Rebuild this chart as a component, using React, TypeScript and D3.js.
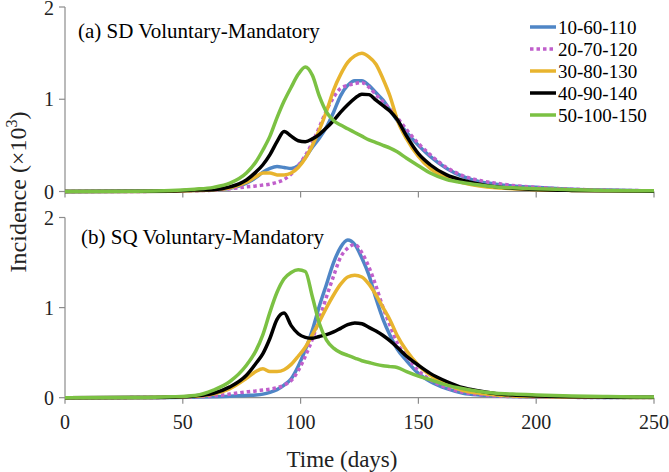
import React from "react";
import * as d3 from "d3";

// sample days shared by every series
const days = [0, 30, 45, 55, 63, 70, 77, 81, 84, 87, 90, 93, 96, 99, 102, 105, 108, 111, 114, 117, 120, 123, 126, 129, 132, 135, 138, 141, 145, 150, 155, 162, 169, 176, 183, 190, 200, 215, 230, 250];

const seriesNames = ["10-60-110", "20-70-120", "30-80-130", "40-90-140", "50-100-150"];
const seriesColors = ["#4f86c6", "#c05fcb", "#e8b42e", "#000000", "#7bc143"];

// (a) SD Voluntary-Mandatory, incidence x10^3
const sdBlue = [0, 0.001, 0.004, 0.01, 0.018, 0.035, 0.09, 0.15, 0.21, 0.25, 0.27, 0.26, 0.25, 0.28, 0.37, 0.48, 0.58, 0.7, 0.86, 1.04, 1.15, 1.2, 1.2, 1.15, 1.07, 0.99, 0.88, 0.77, 0.64, 0.5, 0.38, 0.25, 0.16, 0.105, 0.08, 0.06, 0.045, 0.025, 0.015, 0.008];
const sdPurple = [0, 0.001, 0.003, 0.008, 0.015, 0.03, 0.05, 0.06, 0.07, 0.08, 0.1, 0.13, 0.19, 0.28, 0.39, 0.53, 0.7, 0.88, 1.02, 1.12, 1.15, 1.17, 1.18, 1.13, 1.05, 0.97, 0.89, 0.8, 0.67, 0.52, 0.4, 0.26, 0.17, 0.12, 0.09, 0.065, 0.045, 0.025, 0.015, 0.008];
const sdYellow = [0, 0.001, 0.004, 0.01, 0.02, 0.04, 0.1, 0.16, 0.2, 0.2, 0.18, 0.18, 0.2, 0.26, 0.36, 0.5, 0.67, 0.87, 1.1, 1.27, 1.4, 1.47, 1.5, 1.46, 1.38, 1.22, 1.03, 0.78, 0.57, 0.38, 0.25, 0.15, 0.095, 0.06, 0.04, 0.03, 0.02, 0.012, 0.007, 0.004];
const sdBlack = [0, 0.002, 0.006, 0.015, 0.02, 0.05, 0.125, 0.21, 0.29, 0.4, 0.54, 0.65, 0.6, 0.55, 0.54, 0.57, 0.62, 0.69, 0.77, 0.86, 0.94, 1.01, 1.055, 1.05, 0.99, 0.93, 0.87, 0.78, 0.6, 0.41, 0.29, 0.18, 0.12, 0.08, 0.05, 0.035, 0.022, 0.012, 0.007, 0.004];
const sdGreen = [0, 0.003, 0.01, 0.025, 0.045, 0.09, 0.2, 0.32, 0.45, 0.6, 0.8, 0.98, 1.13, 1.27, 1.35, 1.26, 1.03, 0.86, 0.77, 0.72, 0.68, 0.64, 0.6, 0.56, 0.53, 0.5, 0.47, 0.43, 0.36, 0.28, 0.2, 0.13, 0.095, 0.07, 0.05, 0.04, 0.03, 0.02, 0.012, 0.008];

// (b) SQ Voluntary-Mandatory
const sqBlue = [0, 0.001, 0.003, 0.006, 0.01, 0.015, 0.025, 0.03, 0.04, 0.06, 0.09, 0.14, 0.21, 0.35, 0.53, 0.75, 1.02, 1.26, 1.5, 1.67, 1.75, 1.7, 1.55, 1.36, 1.1, 0.87, 0.69, 0.54, 0.41, 0.27, 0.18, 0.1, 0.05, 0.03, 0.02, 0.012, 0.007, 0.004, 0.002, 0.001];
const sqPurple = [0, 0.001, 0.004, 0.01, 0.02, 0.04, 0.065, 0.075, 0.085, 0.095, 0.11, 0.14, 0.19, 0.3, 0.46, 0.65, 0.88, 1.12, 1.35, 1.56, 1.66, 1.7, 1.61, 1.45, 1.24, 1.0, 0.8, 0.61, 0.46, 0.3, 0.2, 0.11, 0.06, 0.035, 0.02, 0.013, 0.008, 0.004, 0.002, 0.001];
const sqYellow = [0, 0.002, 0.005, 0.015, 0.04, 0.1, 0.215, 0.29, 0.32, 0.29, 0.29, 0.31, 0.37, 0.46, 0.56, 0.7, 0.845, 1.0, 1.14, 1.26, 1.34, 1.36, 1.34, 1.26, 1.14, 1.0, 0.86, 0.69, 0.52, 0.36, 0.25, 0.15, 0.08, 0.05, 0.03, 0.02, 0.012, 0.007, 0.004, 0.002];
const sqBlack = [0, 0.002, 0.006, 0.02, 0.05, 0.12, 0.25, 0.38, 0.49, 0.66, 0.87, 0.94, 0.8, 0.71, 0.67, 0.66, 0.68, 0.7, 0.73, 0.77, 0.81, 0.83, 0.82, 0.78, 0.74, 0.69, 0.63, 0.56, 0.46, 0.36, 0.27, 0.18, 0.11, 0.075, 0.045, 0.03, 0.02, 0.01, 0.006, 0.004];
const sqGreen = [0, 0.002, 0.01, 0.025, 0.085, 0.18, 0.36, 0.52, 0.7, 0.95, 1.17, 1.32, 1.39, 1.42, 1.4, 1.12, 0.82, 0.64, 0.55, 0.5, 0.47, 0.44, 0.41, 0.39, 0.37, 0.355, 0.345, 0.335, 0.29, 0.24, 0.2, 0.14, 0.1, 0.07, 0.05, 0.04, 0.03, 0.018, 0.012, 0.008];

const xTicks = [0, 50, 100, 150, 200, 250];
const yTicks = [0, 1, 2];

const font = "Liberation Serif, Times New Roman, serif";
const axisColor = "#8c8c8c";

const x = d3.scaleLinear().domain([0, 250]).range([65, 654]);

const panels = [
  { title: "(a) SD Voluntary-Mandatory", series: [sdBlue, sdPurple, sdYellow, sdBlack, sdGreen], y: d3.scaleLinear().domain([0, 2]).range([191.5, 7]), labels: false, titleX: 78, titleY: 38 },
  { title: "(b) SQ Voluntary-Mandatory", series: [sqBlue, sqPurple, sqYellow, sqBlack, sqGreen], y: d3.scaleLinear().domain([0, 2]).range([397.7, 217.5]), labels: true, titleX: 81, titleY: 244 },
];

const Panel = ({ p }) => {
  const line = d3
    .line<number>()
    .x((_, i) => x(days[i]))
    .y((d) => p.y(d))
    .curve(d3.curveMonotoneX);
  const y0 = p.y(0);
  return (
    <g>
      {/* axes */}
      <line x1={x(0)} x2={x(250)} y1={y0} y2={y0} stroke={axisColor} strokeWidth={1.2} />
      <line x1={x(0)} x2={x(0)} y1={p.y(2)} y2={y0} stroke={axisColor} strokeWidth={1.2} />
      {xTicks.map((t) => (
        <g key={"x" + t}>
          <line x1={x(t)} x2={x(t)} y1={y0} y2={y0 + 6} stroke={axisColor} strokeWidth={1.2} />
          {p.labels && (
            <text x={x(t)} y={429} textAnchor="middle" fontSize={20} fill="#222">{t}</text>
          )}
        </g>
      ))}
      {yTicks.map((t) => (
        <g key={"y" + t}>
          <line x1={x(0) - 6} x2={x(0)} y1={p.y(t)} y2={p.y(t)} stroke={axisColor} strokeWidth={1.2} />
          <text x={54} y={Math.max(p.y(t), 8)} dy="0.35em" textAnchor="end" fontSize={20} fill="#222">{t}</text>
        </g>
      ))}
      <text x={p.titleX} y={p.titleY} fontSize={21} fill="#000">{p.title}</text>
      {p.series.map((s, i) => (
        <path
          key={i}
          d={line(s)}
          fill="none"
          stroke={seriesColors[i]}
          strokeWidth={3.5}
          strokeDasharray={i === 1 ? "3.5,3" : undefined}
          strokeLinejoin="round"
        />
      ))}
    </g>
  );
};

const App = () => {
  return (
    <svg width={669} height={472} style={{ position: "absolute", left: 0, top: 0, background: "#fff", fontFamily: font }}>
      <rect width={669} height={472} fill="#fff" />
      {panels.map((p, i) => (
        <Panel key={i} p={p} />
      ))}
      {/* legend */}
      {seriesNames.map((n, i) => {
        const ly = 27 + i * 22;
        return (
          <g key={n}>
            <line x1={530} x2={556} y1={ly} y2={ly} stroke={seriesColors[i]} strokeWidth={3.5} strokeDasharray={i === 1 ? "3.5,3" : undefined} />
            <text x={558} y={ly} dy="0.35em" fontSize={19} fill="#000">{n}</text>
          </g>
        );
      })}
      <text x={342} y={467} textAnchor="middle" fontSize={23} fill="#222">Time (days)</text>
      <text transform="translate(26,192) rotate(-90)" textAnchor="middle" fontSize={24} fill="#222">
        Incidence (×10<tspan dy="-9" fontSize={16}>3</tspan><tspan dy="9">)</tspan>
      </text>
    </svg>
  );
};

export default App;
